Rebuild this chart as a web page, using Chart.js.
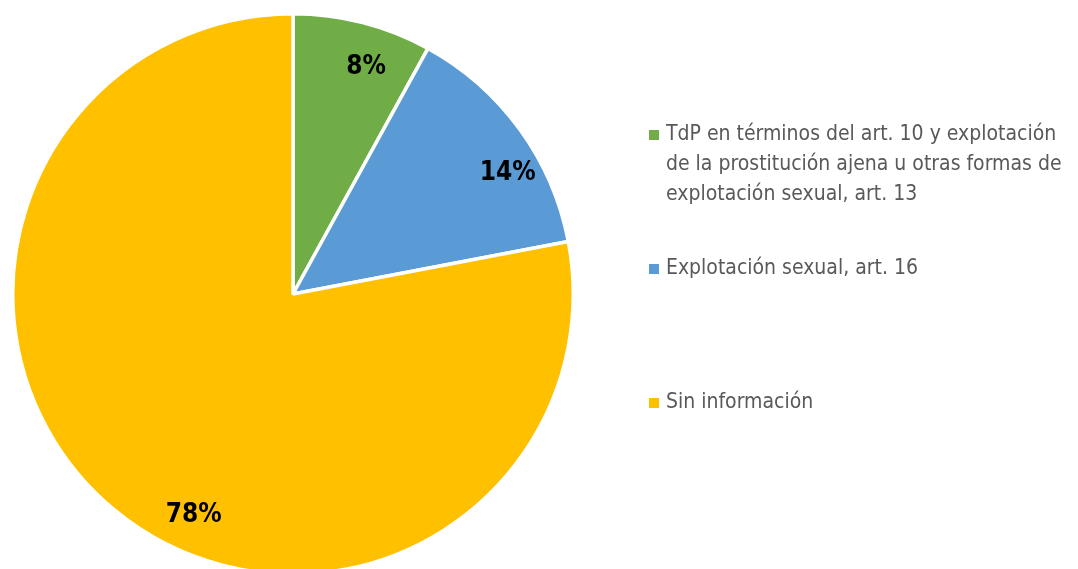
<!DOCTYPE html>
<html>
<head>
<meta charset="utf-8">
<script src="https://cdn.jsdelivr.net/npm/chart.js@4"></script>
<style>
html,body{margin:0;padding:0;background:#fff;overflow:hidden;}
#wrap{position:relative;width:1078px;height:580px;}
</style>
</head>
<body>
<div id="wrap"><canvas id="c"></canvas></div>
<script>
const categories = [
  "TdP en términos del art. 10 y explotación de la prostitución ajena u otras formas de explotación sexual, art. 13",
  "Explotación sexual, art. 16",
  "Sin información"
];
const values = [8, 14, 78];
const colors = ["#70AD47", "#5B9BD5", "#FFC000"];

const FONT_TXT = "'Liberation Sans Narrow','DejaVu Sans Condensed','Roboto',sans-serif";

const labelPlugin = {
  id: 'pctLabels',
  afterDatasetsDraw(chart, args, opts) {
    const ctx = chart.ctx;
    const meta = chart.getDatasetMeta(0);
    const total = values.reduce((a, b) => a + b, 0);
    ctx.save();
    ctx.font = "bold 26px " + FONT_TXT;
    ctx.fillStyle = "#000";
    ctx.textAlign = "center";
    ctx.textBaseline = "middle";
    meta.data.forEach((arc, i) => {
      const p = arc.getProps(['x','y','startAngle','endAngle','outerRadius'], true);
      const a = p.startAngle + (p.endAngle - p.startAngle) * opts.frac[i];
      const r = p.outerRadius * opts.rad[i];
      const x = p.x + Math.cos(a) * r;
      const y = p.y + Math.sin(a) * r;
      ctx.fillText(Math.round(values[i] / total * 100) + "%", x, y);
    });
    ctx.restore();
  }
};

const legendPlugin = {
  id: 'sideLegend',
  afterDraw(chart, args, opts) {
    const ctx = chart.ctx;
    ctx.save();
    ctx.font = "21px " + FONT_TXT;
    ctx.textBaseline = "middle";
    ctx.textAlign = "left";
    categories.forEach((label, i) => {
      const words = label.split(" ");
      const lines = [];
      let cur = "";
      words.forEach(w => {
        const t = cur ? cur + " " + w : w;
        if (ctx.measureText(t).width > opts.maxWidth && cur) { lines.push(cur); cur = w; }
        else cur = t;
      });
      if (cur) lines.push(cur);
      const y0 = opts.top[i];
      ctx.fillStyle = colors[i];
      ctx.fillRect(opts.x, y0 - 5, 10, 10);
      ctx.fillStyle = "#595959";
      lines.forEach((ln, k) => {
        ctx.fillText(ln, opts.x + 17, y0 + k * opts.lineH);
      });
    });
    ctx.restore();
  }
};

new Chart(document.getElementById('c'), {
  type: 'pie',
  data: {
    labels: categories,
    datasets: [{
      data: values,
      backgroundColor: colors,
      borderColor: "#ffffff",
      borderWidth: 3.5,
      hoverOffset: 0
    }]
  },
  options: {
    responsive: true,
    maintainAspectRatio: false,
    animation: false,
    layout: { padding: { left: 11, right: 503, top: 12, bottom: 4 } },
    plugins: {
      legend: { display: false },
      tooltip: { enabled: false },
      pctLabels: { frac: [0.62, 0.63, 0.445], rad: [0.85, 0.88, 0.865] },
      sideLegend: { x: 649, top: [135, 269, 403], lineH: 30, maxWidth: 410 }
    }
  },
  plugins: [labelPlugin, legendPlugin]
});
</script>
</body>
</html>
